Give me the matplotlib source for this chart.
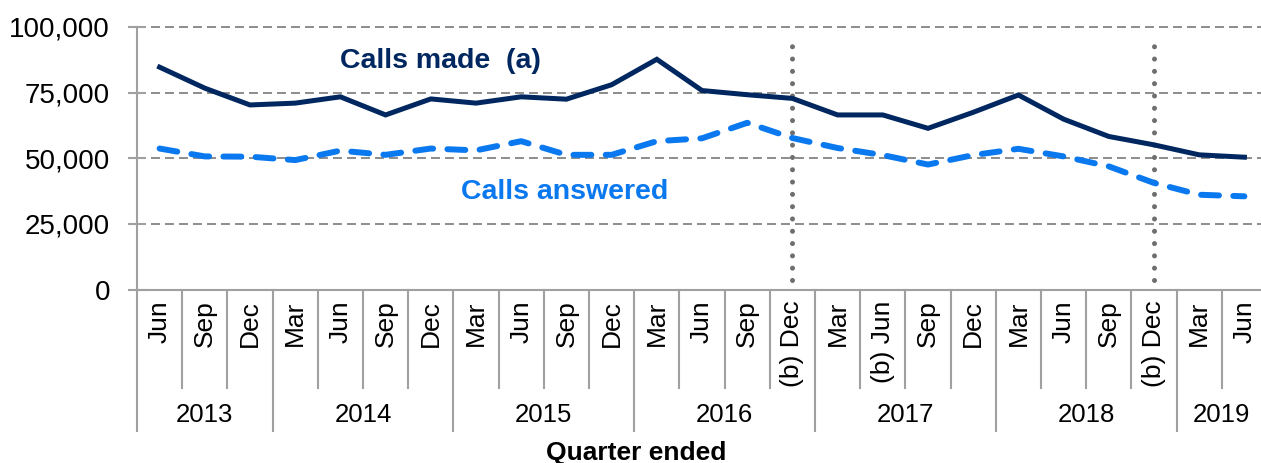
import matplotlib
matplotlib.use("Agg")
import matplotlib.pyplot as plt
from matplotlib.ticker import FuncFormatter

plt.rcParams['font.family'] = ['Liberation Sans', 'DejaVu Sans']

# ---- data ----
quarters = ["Jun", "Sep", "Dec",
            "Mar", "Jun", "Sep", "Dec",
            "Mar", "Jun", "Sep", "Dec",
            "Mar", "Jun", "Sep", "(b) Dec",
            "Mar", "(b) Jun", "Sep", "Dec",
            "Mar", "Jun", "Sep", "(b) Dec",
            "Mar", "Jun"]
years = ["2013", "2014", "2015", "2016", "2017", "2018", "2019"]
year_counts = [3, 4, 4, 4, 4, 4, 2]

calls_made = [84700, 76700, 70300, 71000, 73400, 66500, 72600,
              71000, 73400, 72500, 78000, 87700, 75800, 74200,
              72800, 66500, 66500, 61400, 67500, 74100, 64900,
              58300, 55100, 51300, 50400]
calls_answered = [53700, 50700, 50600, 49300, 52900, 51300, 53700,
                  53000, 56500, 51300, 51300, 56500, 57600, 63500,
                  57700, 53900, 51200, 47600, 51200, 53600, 50700,
                  46900, 40600, 36100, 35500]
break_idx = [14, 22]

NAVY = '#00275F'
BLUE = '#0A78EE'
GRID = '#8C8C8C'
AXC = '#A0A0A0'

W, H = 1261, 463
fig = plt.figure(figsize=(W / 100, H / 100), dpi=100)
left, right, top, bottom = 137, 1267, 27, 289.5
ax = fig.add_axes([left / W, 1 - bottom / H, (right - left) / W, (bottom - top) / H])

x = list(range(len(quarters)))
ax.set_xlim(-0.5, len(quarters) - 0.5)
ax.set_ylim(0, 100000)

# gridlines
for gy in [25000, 50000, 75000, 100000]:
    ax.axhline(gy, color=GRID, lw=1.4, linestyle=(0, (4.6, 2.6)), zorder=1, clip_on=False)

# break lines
for b in break_idx:
    ax.plot([b, b], [3500, 94000], color='#6E6E6E', lw=3.6,
            linestyle=(0, (0.01, 2.45)), dash_capstyle='round', zorder=2)

ax.plot(x, calls_made, color=NAVY, lw=3.6, solid_joinstyle='miter', zorder=3)
ax.plot(x, calls_answered, color=BLUE, lw=4.3, linestyle=(0, (3.0, 2.4)),
        dash_capstyle='round', zorder=3)

ax.text(6.21, 86900, "Calls made  (a)", color=NAVY, fontsize=20.5, fontweight='bold',
        ha='center', va='center')
ax.text(8.95, 37300, "Calls answered", color=BLUE, fontsize=20.5, fontweight='bold',
        ha='center', va='center')

# spines
for s in ['top', 'right']:
    ax.spines[s].set_visible(False)
ax.spines['left'].set_color(AXC)
ax.spines['bottom'].set_color(AXC)
ax.spines['left'].set_linewidth(1.5)
ax.spines['bottom'].set_linewidth(1.5)

ax.set_yticks([0, 25000, 50000, 75000, 100000])
ax.yaxis.set_major_formatter(FuncFormatter(lambda v, p: f"{v:,.0f}"))
ax.tick_params(axis='y', direction='inout', length=13, width=1.5, color=AXC,
               labelsize=20, pad=13, labelcolor='#000000')

ax.set_xticks(x)
ax.set_xticklabels(quarters, rotation=90, va='top', ha='center', fontsize=19)
ax.tick_params(axis='x', length=0, pad=8)

# category separators
xt = ax.get_xaxis_transform()
y_cat = (bottom - 388) / (bottom - top)
y_year = (bottom - 431) / (bottom - top)
y_ylab = (bottom - 415) / (bottom - top)
year_bounds = [-0.5]
for c in year_counts:
    year_bounds.append(year_bounds[-1] + c)
for i in range(len(quarters) - 1):
    xb = i + 0.5
    ybot = y_year if xb in year_bounds else y_cat
    ax.plot([xb, xb], [0, ybot], transform=xt, color=AXC, lw=1.5, clip_on=False)
ax.plot([-0.5, -0.5], [0, y_year], transform=xt, color=AXC, lw=1.5, clip_on=False)

for yr, a, b in zip(years, year_bounds[:-1], year_bounds[1:]):
    ax.text((a + b) / 2, y_ylab, yr, transform=xt, ha='center', va='center', fontsize=18.5)

fig.text(636 / W, 1 - 453 / H, "Quarter ended", ha='center', va='center',
         fontsize=19, fontweight='bold')

fig.savefig("out.png", dpi=100)
